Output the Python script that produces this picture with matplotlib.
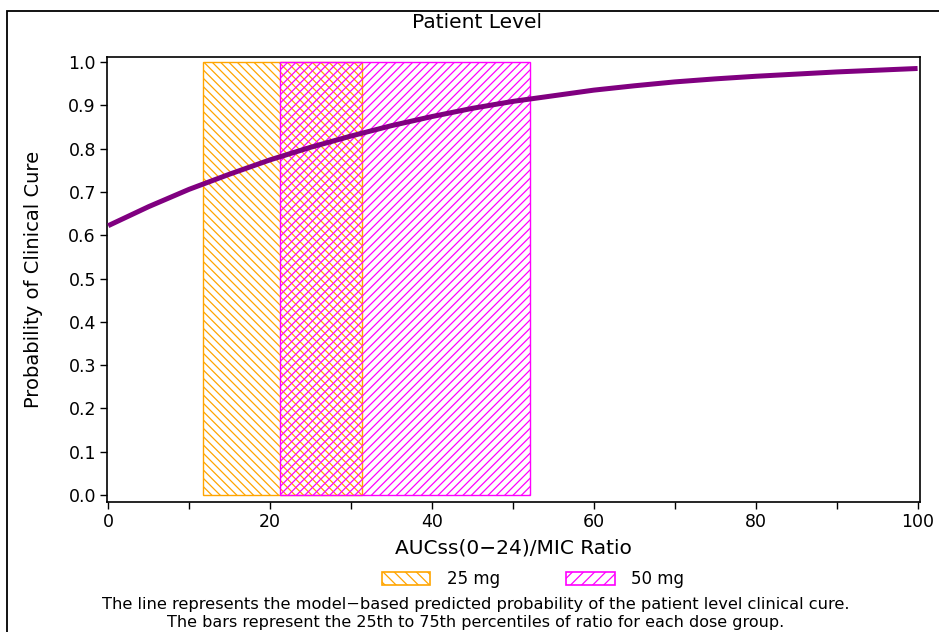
import matplotlib
matplotlib.use("Agg")
import matplotlib.pyplot as plt
from matplotlib.patches import Patch, Rectangle

# model curve
auc_ratio = [0, 5, 10, 15, 20, 25, 30, 35, 40, 45, 50,
             55, 60, 65, 70, 75, 80, 85, 90, 95, 100]
prob_cure = [0.622, 0.666, 0.706, 0.741, 0.774, 0.803, 0.829, 0.853, 0.874, 0.893, 0.909,
             0.922, 0.935, 0.945, 0.954, 0.961, 0.967, 0.972, 0.977, 0.981, 0.985]

# 25th / 75th percentiles of ratio per dose group
doses = ["25 mg", "50 mg"]
p25 = [11.7, 21.2]
p75 = [31.3, 52.1]
bar_top = [1.0, 1.0]

colors = ["#FFA500", "#FF00FF"]
hatches = ["\\\\\\\\", "////"]
legend_hatches = ["\\\\\\", "///"]

plt.rcParams["font.family"] = "DejaVu Sans"
plt.rcParams["hatch.linewidth"] = 0.9

fig = plt.figure(figsize=(9.39, 6.32), dpi=100)
ax = fig.add_axes([107 / 939, 1 - 502 / 632, (920 - 107) / 939, (502 - 57) / 632])

for i in range(len(doses)):
    ax.bar(p25[i], bar_top[i], width=p75[i] - p25[i], align="edge",
           fill=False, edgecolor=colors[i], hatch=hatches[i], linewidth=1.0, zorder=2)

ax.plot(auc_ratio, prob_cure, color="#800080", linewidth=3.6, zorder=3,
        solid_capstyle="butt")

ax.set_xlim(-0.15, 100.3)
ax.set_ylim(-0.016, 1.0115)
ax.set_xticks([0, 20, 40, 60, 80, 100])
ax.set_xticks([10, 30, 50, 70, 90], minor=True)
ax.set_yticks([i / 10 for i in range(11)])
ax.set_yticklabels([f"{i / 10:.1f}" for i in range(11)])
ax.tick_params(axis="both", which="both", direction="out", length=5, width=1,
               labelsize=12.5, pad=3)
for s in ax.spines.values():
    s.set_linewidth(1.2)

ax.set_xlabel("AUCss(0\u221224)/MIC Ratio", fontsize=14.5, labelpad=5)
ax.set_ylabel("Probability of Clinical Cure", fontsize=14, labelpad=18)

fig.text(477 / 939, 1 - 22 / 632, "Patient Level", ha="center", va="center", fontsize=14.5)

handles = [Patch(facecolor="white", edgecolor=colors[i], hatch=legend_hatches[i], linewidth=1.2)
           for i in range(len(doses))]
fig.legend(handles, doses, loc="center", bbox_to_anchor=(533 / 939, 1 - 579 / 632),
           ncol=2, frameon=False, fontsize=12, handlelength=2.9, handleheight=0.8,
           handletextpad=1.0, columnspacing=4.0)

fig.text(476 / 939, 1 - 605 / 632,
         "The line represents the model\u2212based predicted probability of the patient level clinical cure.",
         ha="center", va="center", fontsize=11.7)
fig.text(476 / 939, 1 - 622.5 / 632,
         "The bars represent the 25th to 75th percentiles of ratio for each dose group.",
         ha="center", va="center", fontsize=11.5)

# outer frame of the page
fig.patches.append(Rectangle((7 / 939, -0.1), 1.2, 1.1 - 11 / 632, transform=fig.transFigure,
                             fill=False, edgecolor="black", linewidth=1.3))

fig.savefig("out.png", dpi=100)
